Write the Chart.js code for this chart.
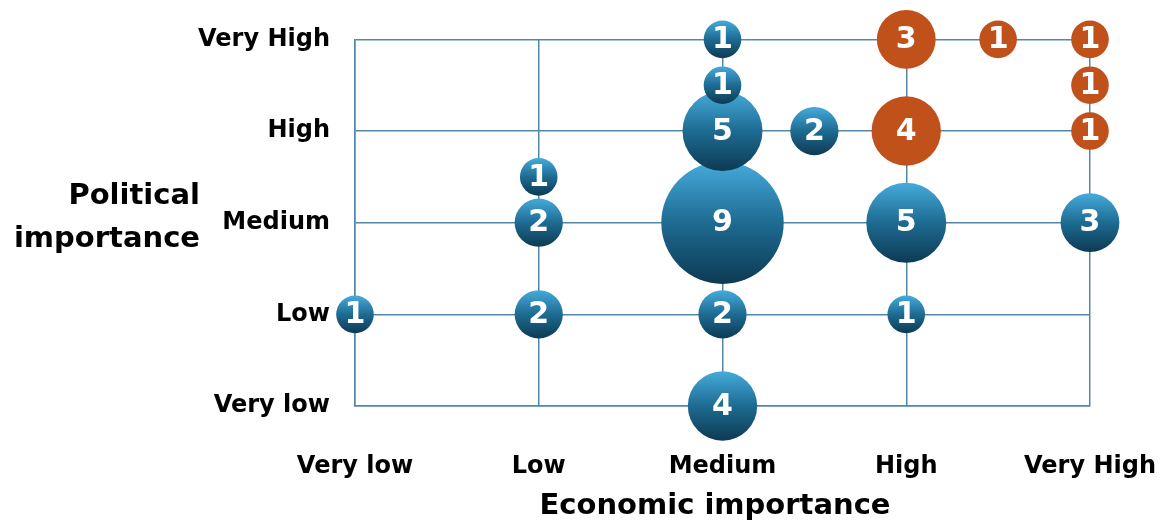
<!DOCTYPE html>
<html>
<head>
<meta charset="utf-8">
<script src="https://cdn.jsdelivr.net/npm/chart.js@4"></script>
<style>
  html, body { margin: 0; padding: 0; background: #fff; }
  #wrap { width: 1162px; height: 526px; }
</style>
</head>
<body>
<div id="wrap"><canvas id="bubbleChart" width="1162" height="526"></canvas></div>
<script>
// ===== DATA =====
const levelLabels = ['Very low', 'Low', 'Medium', 'High', 'Very High'];

// blue group (drawn in this order so overlaps stack like the original)
const blueX     = [0, 1, 2, 3, 2, 1, 1,   2, 2, 2,   2, 2.5, 3, 4];
const blueY     = [1, 1, 1, 1, 0, 2, 2.5, 2, 3, 3.5, 4, 3,   2, 2];
const blueCount = [1, 2, 2, 1, 4, 2, 1,   9, 5, 1,   1, 2,   5, 3];

// orange group
const orangeX     = [3, 3.5, 4, 4,   4, 3];
const orangeY     = [4, 4,   4, 3.5, 3, 3];
const orangeCount = [3, 1,   1, 1,   1, 4];

const GRID = '#5287a8';
const FONT = "'DejaVu Sans', sans-serif";

// bubble radius grows with the count
function toPoints(xs, ys, counts) {
    return xs.map((x, i) => ({ x: x, y: ys[i], r: 13.5 + 5.3 * counts[i], count: counts[i] }));
}

// vertical gradient for the blue bubbles
function blueGradient(context) {
    const chart = context.chart;
    if (context.type !== 'data' || !chart.scales.y) return '#1d6a90';
    const p = context.raw;
    const cy = chart.scales.y.getPixelForValue(p.y);
    if (!isFinite(cy)) return '#1d6a90';
    const g = chart.ctx.createLinearGradient(0, cy - p.r, 0, cy + p.r);
    g.addColorStop(0, '#45abdb');
    g.addColorStop(0.5, '#1e6b92');
    g.addColorStop(1, '#0d3a53');
    return g;
}

// numbers inside the bubbles + the two axis titles
const bubbleLabels = {
    id: 'bubbleLabels',
    afterDatasetsDraw(chart) {
        const ctx = chart.ctx;
        ctx.save();
        ctx.fillStyle = '#fff';
        ctx.textAlign = 'center';
        ctx.textBaseline = 'middle';
        ctx.font = "bold 30px " + FONT;
        chart.data.datasets.forEach((ds, di) => {
            const meta = chart.getDatasetMeta(di);
            meta.data.forEach((el, i) => {
                ctx.fillText(String(ds.data[i].count), el.x, el.y + 1);
            });
        });
        ctx.fillStyle = '#000';
        ctx.font = "bold 29px " + FONT;
        ctx.textBaseline = 'alphabetic';
        // y title, flat on two lines, right aligned
        ctx.textAlign = 'right';
        ctx.fillText('Political', 200, 204);
        ctx.fillText('importance', 200, 247);
        // x title
        ctx.textAlign = 'center';
        ctx.fillText('Economic importance', 715, 514);
        ctx.restore();
    }
};

function createBubbleChart() {
    const ctx = document.getElementById('bubbleChart');
    if (!ctx) return;

    const chart = new Chart(ctx, {
        type: 'bubble',
        data: {
            datasets: [{
                data: toPoints(blueX, blueY, blueCount),
                backgroundColor: blueGradient,
                borderWidth: 0,
                clip: false
            }, {
                data: toPoints(orangeX, orangeY, orangeCount),
                backgroundColor: '#c1511a',
                borderWidth: 0,
                clip: false
            }]
        },
        options: {
            responsive: false,
            animation: false,
            layout: { autoPadding: false, padding: { top: 38, right: 72, left: 0, bottom: 0 } },
            plugins: {
                legend: { display: false },
                tooltip: { enabled: false }
            },
            scales: {
                x: {
                    type: 'linear',
                    min: 0, max: 4,
                    afterFit: function(scale) {
                        scale.height = 120;
                        // labels may hang past the plot box, the padding covers it
                        scale.paddingLeft = 0;
                        scale.paddingRight = 0;
                    },
                    ticks: {
                        stepSize: 1,
                        padding: 46,
                        color: '#000',
                        font: { family: FONT, size: 24, weight: 'bold' },
                        callback: v => levelLabels[v]
                    },
                    grid: { color: GRID, lineWidth: 1.5, drawTicks: false },
                    border: { color: GRID, width: 1.5 }
                },
                y: {
                    type: 'linear',
                    min: 0, max: 4,
                    afterFit: function(scale) { scale.width = 355; },
                    ticks: {
                        stepSize: 1,
                        padding: 25,
                        color: '#000',
                        font: { family: FONT, size: 24, weight: 'bold' },
                        callback: v => levelLabels[v]
                    },
                    grid: { color: GRID, lineWidth: 1.5, drawTicks: false },
                    border: { color: GRID, width: 1.5 }
                }
            }
        },
        plugins: [bubbleLabels]
    });
    // redraw once the scales are laid out so the gradients get real pixels
    chart.update();
}

document.addEventListener('DOMContentLoaded', createBubbleChart);
</script>
</body>
</html>
